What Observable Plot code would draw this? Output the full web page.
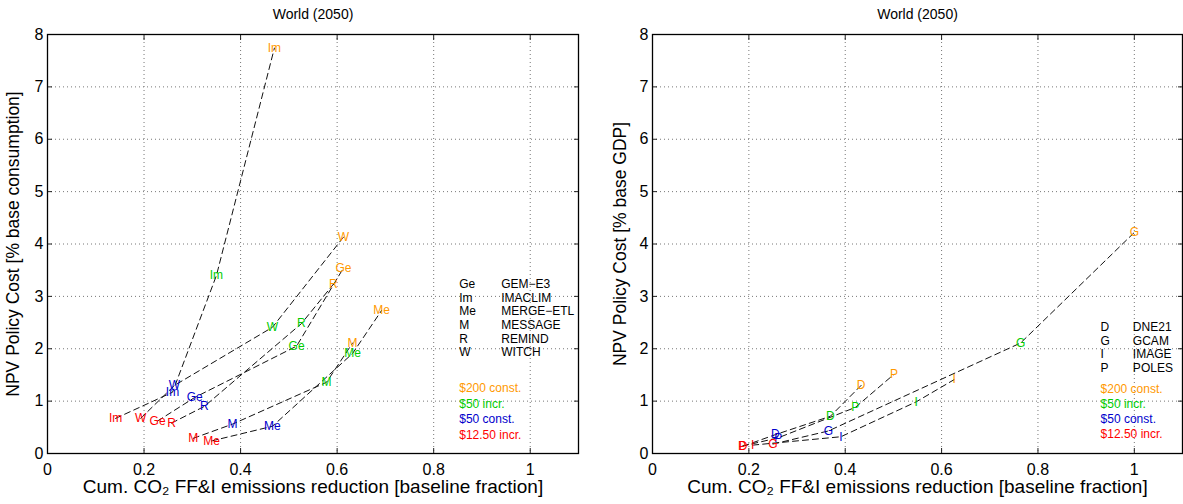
<!DOCTYPE html>
<html>
<head>
<meta charset="utf-8">
<script src="https://cdn.jsdelivr.net/npm/d3@7"></script>
<script src="https://cdn.jsdelivr.net/npm/@observablehq/plot@0.6"></script>
<style>
  html, body { margin: 0; padding: 0; background: #fff; }
  #wrap { display: flex; flex-direction: row; width: 1183px; height: 504px; overflow: hidden; }
  #wrap svg { display: block; }
</style>
</head>
<body>
<div id="wrap"></div>
<script>
// ---------- shared ----------
const scenarios = ["$200 const.", "$50 incr.", "$50 const.", "$12.50 incr."];
const scenarioColors = ["#ff9900", "#00cc00", "#0000cc", "#ff0000"];
const xTicks = [0, 0.2, 0.4, 0.6, 0.8, 1];
const yTicks = [0, 1, 2, 3, 4, 5, 6, 7, 8];
const chartTitle = "World (2050)";
const xLabel = "Cum. CO\u2082 FF&I emissions reduction [baseline fraction]";

// ---------- left panel (% base consumption) ----------
const leftModels = ["Ge", "Im", "Me", "M", "R", "W"];
const leftModelNames = ["GEM\u2212E3", "IMACLIM", "MERGE\u2212ETL", "MESSAGE", "REMIND", "WITCH"];
const left200constX = [0.613, 0.470, 0.692, 0.632, 0.592, 0.613];
const left200constY = [3.54, 7.74, 2.73, 2.11, 3.23, 4.13];
const left50incrX   = [0.516, 0.350, 0.632, 0.578, 0.526, 0.466];
const left50incrY   = [2.05, 3.40, 1.91, 1.36, 2.48, 2.41];
const left50constX  = [0.305, 0.259, 0.466, 0.383, 0.325, 0.263];
const left50constY  = [1.07, 1.17, 0.52, 0.56, 0.90, 1.30];
const left1250incrX = [0.228, 0.141, 0.340, 0.302, 0.257, 0.193];
const left1250incrY = [0.62, 0.67, 0.24, 0.29, 0.58, 0.67];
const leftYLabel = "NPV Policy Cost [% base consumption]";

// ---------- right panel (% base GDP) ----------
const rightModels = ["D", "G", "I", "P"];
const rightModelNames = ["DNE21", "GCAM", "IMAGE", "POLES"];
const right200constX = [0.433, 1.000, 0.626, 0.501];
const right200constY = [1.30, 4.22, 1.41, 1.51];
const right50incrX   = [0.369, 0.764, 0.547, 0.421];
const right50incrY   = [0.71, 2.11, 0.985, 0.88];
const right50constX  = [0.255, 0.365, 0.391, 0.261];
const right50constY  = [0.36, 0.43, 0.32, 0.30];
const right1250incrX = [0.188, 0.250, 0.208, 0.186];
const right1250incrY = [0.14, 0.18, 0.16, 0.14];
const rightYLabel = "NPV Policy Cost [% base GDP]";

function buildRows(models, xs, ys) {
  const rows = [];
  scenarios.forEach((s, i) => models.forEach((m, j) =>
    rows.push({model: m, scenario: s, order: i, x: xs[i][j], y: ys[i][j]})));
  return rows;
}

const FONT = "'Liberation Sans', Arial, Helvetica, sans-serif";
const fmt = d => String(d);

function panel(cfg) {
  const rows = buildRows(cfg.models, cfg.xs, cfg.ys);
  const lineRows = rows.slice().sort((a, b) => b.order - a.order);
  return Plot.plot({
    width: cfg.width,
    height: 504,
    marginLeft: cfg.marginLeft,
    marginRight: cfg.marginRight,
    marginTop: 34,
    marginBottom: 51,
    style: {fontFamily: FONT, fontSize: "16px", color: "#000", background: "#fff", overflow: "visible"},
    x: {domain: [0, 1.1]},
    y: {domain: [0, 8]},
    color: {domain: scenarios, range: scenarioColors},
    marks: [
      Plot.gridX(xTicks, {stroke: "#777", strokeOpacity: 1, strokeDasharray: "1,3"}),
      Plot.gridY(yTicks, {stroke: "#777", strokeOpacity: 1, strokeDasharray: "1,3"}),
      Plot.axisX(xTicks, {anchor: "bottom", tickSize: 5, insetBottom: 5, fill: "none", stroke: "#222"}),
      Plot.axisX(xTicks, {anchor: "top", tickSize: 5, insetTop: 5, fill: "none", stroke: "#222"}),
      Plot.axisY(yTicks, {anchor: "left", tickSize: 5, insetLeft: 5, fill: "none", stroke: "#222"}),
      Plot.axisY(yTicks, {anchor: "right", tickSize: 5, insetRight: 5, fill: "none", stroke: "#222"}),
      Plot.axisX(xTicks, {anchor: "bottom", tickSize: 0, tickPadding: 10, label: null, fontSize: 16, tickFormat: fmt}),
      Plot.axisY(yTicks, {anchor: "left", tickSize: 0, tickPadding: 4, label: null, fontSize: 16, tickFormat: fmt}),
      Plot.frame({stroke: "#000", strokeWidth: 1.3}),
      Plot.line(lineRows, {x: "x", y: "y", z: "model", stroke: "#111", strokeWidth: 1, strokeDasharray: "6,4"}),
      Plot.text(rows, {x: "x", y: "y", text: "model", fill: "scenario", fontSize: 12, textAnchor: "middle", lineAnchor: "middle"}),
      // model legend
      Plot.text(cfg.models, {x: () => cfg.legX1, y: (d, i) => cfg.legY0 - i * cfg.legStep, text: d => d,
        textAnchor: "start", lineAnchor: "middle", fontSize: 12}),
      Plot.text(cfg.names, {x: () => cfg.legX2, y: (d, i) => cfg.legY0 - i * cfg.legStep, text: d => d,
        textAnchor: "start", lineAnchor: "middle", fontSize: 12}),
      // scenario legend
      Plot.text(scenarios, {x: () => cfg.legX1, y: (d, i) => cfg.scY0 - i * cfg.scStep, text: d => d, fill: d => d,
        textAnchor: "start", lineAnchor: "middle", fontSize: 12}),
      // title and axis labels
      Plot.text([chartTitle], {frameAnchor: "top", dy: -20, textAnchor: "middle", lineAnchor: "middle", fontSize: 14, text: d => d}),
      Plot.text([xLabel], {frameAnchor: "bottom", dy: 33, textAnchor: "middle", lineAnchor: "middle", fontSize: 19, text: d => d}),
      Plot.text([cfg.ylabel], {frameAnchor: "left", dx: cfg.yLabelDx, rotate: -90, textAnchor: "middle", lineAnchor: "middle", fontSize: 17.5, text: d => d})
    ]
  });
}

const wrap = document.getElementById("wrap");
wrap.appendChild(panel({
  width: 598, marginLeft: 47, marginRight: 20,
  models: leftModels, names: leftModelNames,
  xs: [left200constX, left50incrX, left50constX, left1250incrX],
  ys: [left200constY, left50incrY, left50constY, left1250incrY],
  legX1: 0.853, legX2: 0.94, legY0: 3.23, legStep: 0.26,
  scY0: 1.25, scStep: 0.30,
  ylabel: leftYLabel, yLabelDx: -34
}));
wrap.appendChild(panel({
  width: 585, marginLeft: 54, marginRight: 1,
  models: rightModels, names: rightModelNames,
  xs: [right200constX, right50incrX, right50constX, right1250incrX],
  ys: [right200constY, right50incrY, right50constY, right1250incrY],
  legX1: 0.93, legX2: 0.997, legY0: 2.41, legStep: 0.26,
  scY0: 1.23, scStep: 0.287,
  ylabel: rightYLabel, yLabelDx: -32
}));
</script>
</body>
</html>
